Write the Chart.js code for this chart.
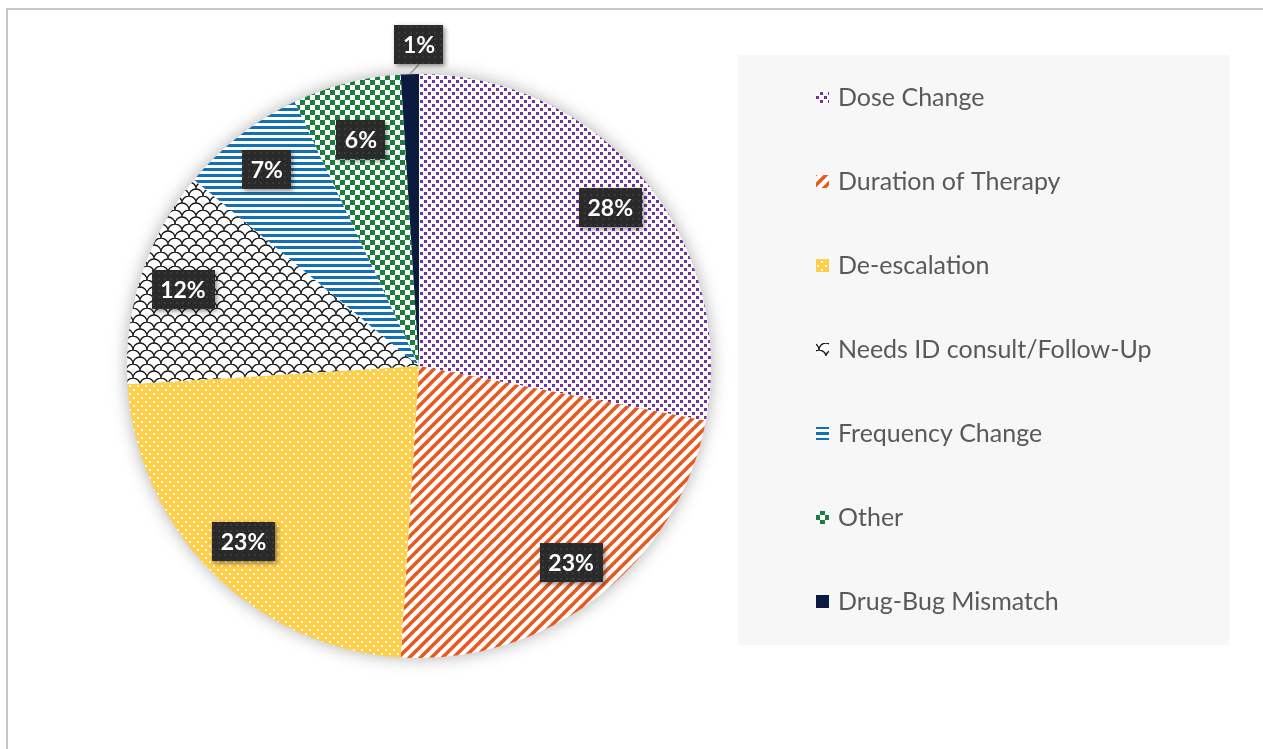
<!DOCTYPE html>
<html><head><meta charset="utf-8">
<script src="https://cdn.jsdelivr.net/npm/chart.js@4.4.1/dist/chart.umd.min.js"></script>
<style>html,body{margin:0;padding:0;background:#fff;overflow:hidden}canvas{display:block}</style>
</head><body>
<canvas id="c" width="1263" height="749"></canvas>
<script>
// ---- data ----
const categories = ['Dose Change','Duration of Therapy','De-escalation','Needs ID consult/Follow-Up','Frequency Change','Other','Drug-Bug Mismatch'];
const percentValues = [28, 23, 23, 12, 7, 6, 1];

// ---- styles ----
const patternKinds = ['dots','diag','ydots','scales','hstripes','checker','solid'];
const baseColors = ['#7030A0','#E8591F','#FFCF4A','#1A1A1A','#1270B8','#1B7D3A','#0B1A3F'];

function tile(w,h,draw){const c=document.createElement('canvas');c.width=w;c.height=h;const g=c.getContext('2d');draw(g,w,h);return document.createElement('canvas').getContext('2d').createPattern(c,'repeat');}
function makePattern(kind,color){
  switch(kind){
    case 'dots': return tile(8,8,(g)=>{g.fillStyle='#fff';g.fillRect(0,0,8,8);g.fillStyle=color;g.fillRect(0,0,3,3);g.fillRect(4,4,3,3);});
    case 'diag': return tile(11,11,(g)=>{g.fillStyle='#fff';g.fillRect(0,0,11,11);g.strokeStyle=color;g.lineWidth=3.6;[0,11,22].forEach(c=>{g.beginPath();g.moveTo(-3,c+3);g.lineTo(c+3,-3);g.stroke();});});
    case 'ydots': return tile(8,8,(g)=>{g.fillStyle=color;g.fillRect(0,0,8,8);g.fillStyle='#fff';g.fillRect(1,1,2,2);g.fillRect(5,5,2,2);});
    case 'scales': return tile(14,14,(g)=>{g.fillStyle='#fff';g.fillRect(0,0,14,14);g.strokeStyle=color;g.lineWidth=1.3;
        [[7,7],[0,14],[14,14],[0,0],[14,0]].forEach(([cx,cy])=>{g.beginPath();g.arc(cx,cy,7,Math.PI,2*Math.PI);g.stroke();});});
    case 'hstripes': return tile(6,6,(g)=>{g.fillStyle='#fff';g.fillRect(0,0,6,6);g.fillStyle=color;g.fillRect(0,0,6,3);});
    case 'checker': return tile(10,10,(g)=>{g.fillStyle='#fff';g.fillRect(0,0,10,10);g.fillStyle=color;g.fillRect(0,0,5,5);g.fillRect(5,5,5,5);});
    default: return color;
  }
}
const fills = patternKinds.map((k,i)=>makePattern(k,baseColors[i]));
const boxPattern = tile(6,6,(g)=>{g.fillStyle='#2A2A2A';g.fillRect(0,0,6,6);g.fillStyle='#3A3A3A';g.fillRect(2,2,2,2);});

const framePlugin = {
  id:'frame',
  beforeDraw(chart){
    const ctx=chart.ctx;ctx.save();
    ctx.fillStyle='#fff';ctx.fillRect(0,0,chart.width,chart.height);
    ctx.strokeStyle='#C8C8C8';ctx.lineWidth=2;
    ctx.beginPath();ctx.moveTo(7,chart.height+2);ctx.lineTo(7,9);ctx.lineTo(chart.width+2,9);ctx.stroke();
    // legend panel
    ctx.fillStyle='#F7F7F7';ctx.fillRect(738,55,491,590);
    ctx.restore();
  },
  beforeDatasetsDraw(chart){
    const arc=chart.getDatasetMeta(0).data[0];if(!arc)return;
    const ctx=chart.ctx;ctx.save();
    ctx.shadowColor='rgba(0,0,0,0.35)';ctx.shadowBlur=18;
    ctx.fillStyle='#fff';ctx.beginPath();ctx.arc(arc.x,arc.y,arc.outerRadius-1,0,Math.PI*2);ctx.fill();
    ctx.restore();
  }
};

const legendPlugin = {
  id:'customLegend',
  afterDraw(chart){
    const ctx=chart.ctx;ctx.save();
    const labels=chart.data.labels;const ds=chart.data.datasets[0];
    ctx.font='25px Lato';ctx.textBaseline='middle';ctx.textAlign='left';
    labels.forEach((lab,i)=>{
      const y=97+i*84;
      ctx.fillStyle=ds.backgroundColor[i];ctx.fillRect(816,y-6,13,13);
      ctx.fillStyle='#595959';ctx.fillText(lab,838,y+1);
    });
    ctx.restore();
  }
};

const labelPlugin = {
  id:'sliceLabels',
  afterDatasetsDraw(chart){
    const ctx=chart.ctx;const meta=chart.getDatasetMeta(0);const data=chart.data.datasets[0].data;
    const total=data.reduce((a,b)=>a+b,0);
    ctx.save();
    ctx.font='bold 23px Lato';ctx.textAlign='center';ctx.textBaseline='middle';
    meta.data.forEach((arc,i)=>{
      const frac=data[i]/total;
      const mid=(arc.startAngle+arc.endAngle)/2;
      const outside=frac<0.02;
      const rf=outside?1.1:(frac<0.065?0.8:0.85);
      let cx=arc.x+Math.cos(mid)*arc.outerRadius*rf, cy=arc.y+Math.sin(mid)*arc.outerRadius*rf;
      if(outside){cx=arc.x;}
      const txt=Math.round(frac*100)+'%';
      const w=ctx.measureText(txt).width+17, h=39;
      if(outside){
        ctx.strokeStyle='#8C8C8C';ctx.lineWidth=1.2;ctx.beginPath();
        ctx.moveTo(arc.x+Math.cos(mid)*arc.outerRadius,arc.y+Math.sin(mid)*arc.outerRadius);
        ctx.lineTo(cx,cy+h/2);ctx.stroke();
      }
      ctx.save();
      ctx.shadowColor='rgba(0,0,0,0.45)';ctx.shadowBlur=5;ctx.shadowOffsetX=2;ctx.shadowOffsetY=2;
      ctx.fillStyle=boxPattern;ctx.fillRect(Math.round(cx-w/2),Math.round(cy-h/2),Math.round(w),h);
      ctx.restore();
      ctx.fillStyle='#fff';ctx.fillText(txt,cx,cy+1);
    });
    ctx.restore();
  }
};

new Chart(document.getElementById('c'),{
  type:'pie',
  data:{labels:categories,datasets:[{data:percentValues,backgroundColor:fills,borderWidth:0}]},
  options:{
    responsive:false,animation:false,
    layout:{padding:{left:127,right:552,top:74,bottom:91}},
    plugins:{legend:{display:false},tooltip:{enabled:false}}
  },
  plugins:[framePlugin,legendPlugin,labelPlugin]
});
</script>
</body></html>
